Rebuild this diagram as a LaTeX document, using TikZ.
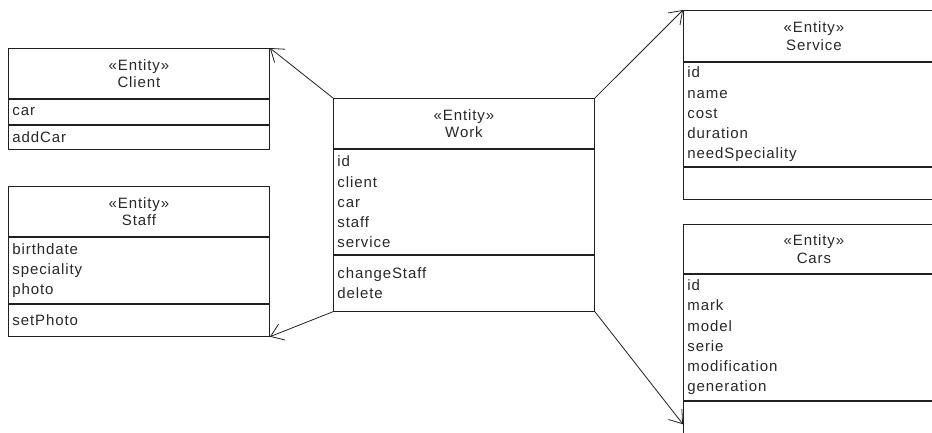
\documentclass[tikz,border=0pt]{standalone}
\usepackage{fontspec}
\setmainfont{Liberation Sans}[LetterSpace=6]
\usetikzlibrary{positioning,arrows.meta}
\definecolor{umltext}{HTML}{282828}
\definecolor{umlline}{HTML}{202020}
\tikzset{
	klasse/.style={draw=umlline, line width=0.9pt, text=umltext, inner xsep=4pt,
		inner ysep=0pt, text width=253pt, minimum width=261pt, anchor=north west},
	kopf/.style={klasse, align=center, font=\fontsize{15}{17.5}\selectfont},
	teil/.style={klasse, align=left, font=\fontsize{15}{20.2}\selectfont},
	assoc/.style={draw=umlline, line width=0.8pt,
		-{Straight Barb[length=12pt,width=17pt]}}
}
\begin{document}
\begin{tikzpicture}[x=1pt, y=-1pt]
	\useasboundingbox (0,0) rectangle (932,432);
	% Client
	\node[kopf, minimum height=50pt] (client) at (8,48) {«Entity»\\Client};
	\node[teil, minimum height=25pt, below=0pt of client] (client-attr) {car};
	\node[teil, minimum height=24pt, below=0pt of client-attr] (client-ops) {addCar};
	% Staff
	\node[kopf, minimum height=50pt] (staff) at (8,186) {«Entity»\\Staff};
	\node[teil, minimum height=66pt, below=0pt of staff] (staff-attr)
		{birthdate\\speciality\\photo};
	\node[teil, minimum height=32pt, below=0pt of staff-attr] (staff-ops) {setPhoto};
	% Work
	\node[kopf, minimum height=50pt] (work) at (333,98) {«Entity»\\Work};
	\node[teil, minimum height=105pt, below=0pt of work] (work-attr)
		{id\\client\\car\\staff\\service};
	\node[teil, minimum height=56pt, below=0pt of work-attr] (work-ops)
		{changeStaff\\delete};
	% Service
	\node[kopf, minimum height=51pt] (service) at (683,10) {«Entity»\\Service};
	\node[teil, minimum height=104pt, below=0pt of service] (service-attr)
		{id\\name\\cost\\duration\\needSpeciality};
	\node[teil, minimum height=32pt, below=0pt of service-attr] (service-ops) {};
	% Cars
	\node[kopf, minimum height=49pt] (cars) at (683,224) {«Entity»\\Cars};
	\node[teil, minimum height=126pt, below=0pt of cars] (cars-attr)
		{id\\mark\\model\\serie\\modification\\generation};
	\node[teil, minimum height=46pt, below=0pt of cars-attr] (cars-ops) {};
	% Assoziationen
	\draw[assoc] (work.north west) -- (client.north east);
	\draw[assoc] (work-ops.south west) -- (staff-ops.south east);
	\draw[assoc] (work.north east) -- (service.north west);
	\draw[assoc] (work-ops.south east) -- (cars-ops.west);
\end{tikzpicture}
\end{document}
